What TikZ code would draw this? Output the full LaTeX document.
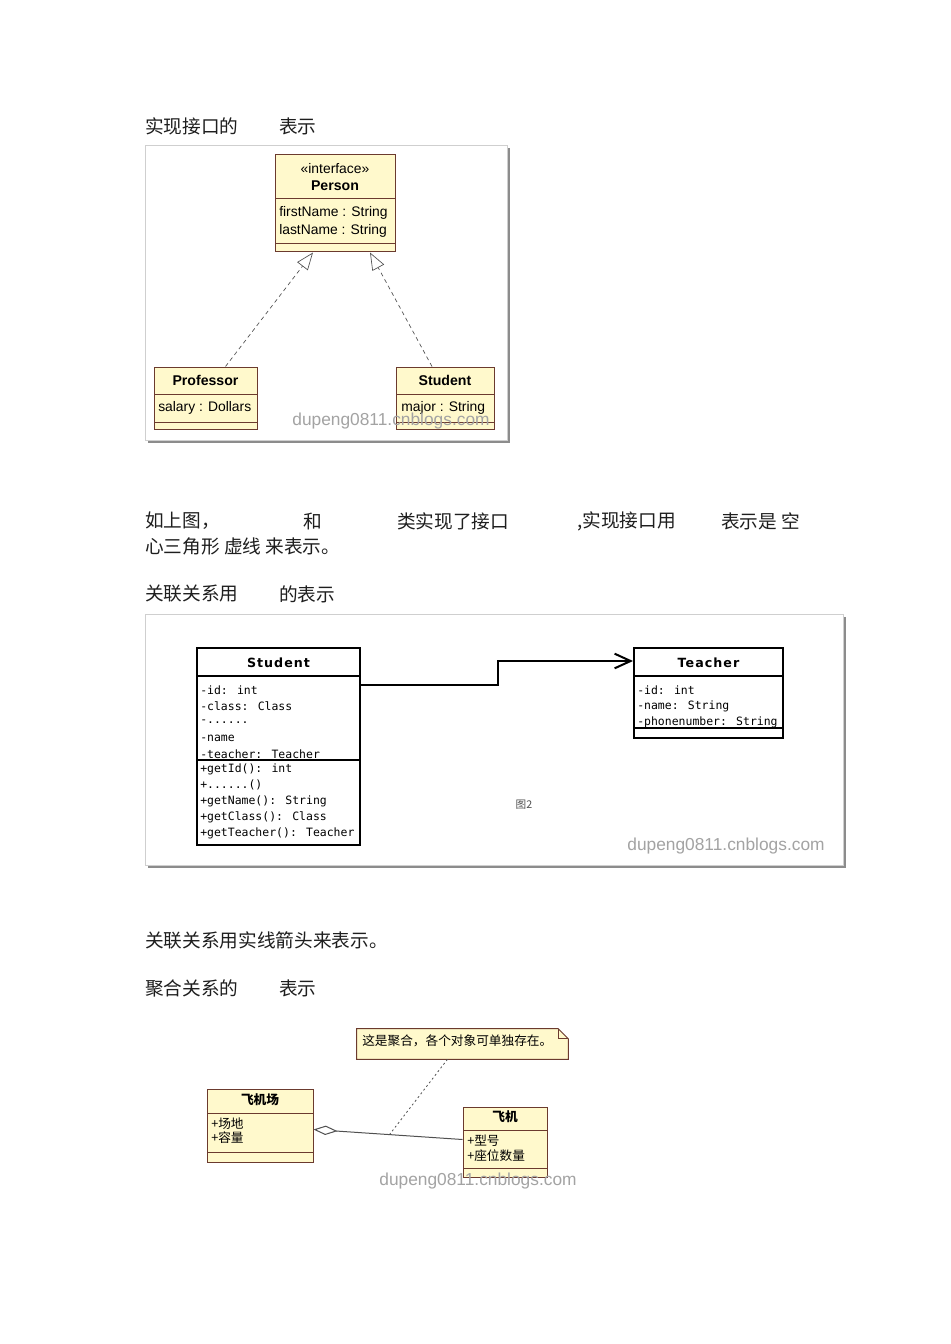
\documentclass[tikz,border=0pt]{standalone}
\usepackage{fontspec}
\setmainfont{Liberation Sans}
\newfontfamily\cjk{Noto Sans CJK SC}
\newfontfamily\umlmono{DejaVu Sans Mono}
\newfontfamily\umlbold{DejaVu Sans}[LetterSpace=8]
\usetikzlibrary{positioning, arrows.meta, fit}
\definecolor{txtdark}{HTML}{1E1E1E}
\definecolor{umlfill}{HTML}{FFF9CC}
\definecolor{umlline}{HTML}{6B3A2E}
\definecolor{wmgray}{HTML}{A3A3A3}
\definecolor{framegray}{HTML}{CFCFCF}
\definecolor{shadowgray}{HTML}{8C8C8C}
\definecolor{linkgray}{HTML}{505050}
\newcommand\umldots{......}

\tikzset{
  bodytxt/.style={anchor=west, inner sep=0pt, text=txtdark,
    font=\cjk\fontsize{14}{16}\selectfont},
  umlbox/.style={fit={#1}, inner sep=0pt, draw=umlline, fill=umlfill,
    line width=0.75pt},
  umlsep/.style={draw=umlline, line width=0.75pt},
  umltitle/.style={inner sep=0pt, font=\fontsize{10.6}{12}\selectfont\bfseries},
  umlattr/.style={anchor=west, inner sep=0pt, font=\fontsize{10.4}{12}\selectfont},
  bwbox/.style={fit={#1}, inner sep=0pt, draw=black, fill=white,
    line width=1.5pt},
  bwtitle/.style={inner sep=0pt, font=\umlbold\fontsize{9.5}{11}\selectfont\bfseries},
  monoattr/.style={anchor=west, inner sep=0pt,
    font=\umlmono\fontsize{8.6}{10}\selectfont},
  cjktitle/.style={inner sep=0pt, font=\cjk\fontsize{9.5}{11}\selectfont\bfseries},
  cjkattr/.style={anchor=west, inner sep=0pt, font=\cjk\fontsize{9.5}{11}\selectfont},
  watermark/.style={inner sep=0pt, text=wmgray, font=\fontsize{13}{14}\selectfont},
  realize/.style={draw=linkgray, line width=0.5pt, dash pattern=on 3pt off 2.5pt,
    -{Triangle[open, length=13pt, width=10pt]}},
  assoc/.style={draw=black, line width=1.5pt,
    -{Straight Barb[length=12pt, width=11pt]}},
  aggr/.style={draw=linkgray, line width=0.75pt,
    {Diamond[open, length=18pt, width=7pt]}-},
  notelink/.style={draw=linkgray, line width=0.6pt, dash pattern=on 1.5pt off 2pt}
}

\begin{document}
\begin{tikzpicture}[x=0.75pt, y=-0.75pt]
  \useasboundingbox[fill=white] (0,0) rectangle (950,1344);

  % --- realisation ---
  \node[bodytxt] (h1a) at (145,126) {实现接口的};
  \node[bodytxt] (h1b) at (279,126) {表示};
  \fill[shadowgray] (148,148) rectangle (510,443);
  \draw[framegray, fill=white] (145,145) rectangle (507,440);

  % interface
  \node[umlbox={(275,155) (395,252)}] (person) {};
  \draw[umlsep] (275,199) -- (395,199) (275,244) -- (395,244);
  \node[umltitle, font=\fontsize{10.4}{12}\selectfont] (personst) at (335,169) {«interface»};
  \node[umltitle] (personnm) at (335,186) {Person};
  \node[umlattr] (personfn) at (279,213) {firstName : String};
  \node[umlattr] (personln) at (279,231) {lastName : String};

  % implementing classes
  \node[umlbox={(154,367) (257,429)}] (prof) {};
  \draw[umlsep] (154,394) -- (257,394) (154,422) -- (257,422);
  \node[umltitle] (profnm) at (205.5,380) {Professor};
  \node[umlattr] (profsal) at (158,408) {salary : Dollars};

  \node[umlbox={(396,367) (494,429)}] (stud) {};
  \draw[umlsep] (396,394) -- (494,394) (396,422) -- (494,422);
  \node[umltitle] (studnm) at (445,380) {Student};
  \node[umlattr] (studmaj) at (401,408) {major : String};

  \draw[realize] ([shift={(20,0)}]prof.north) -- ([shift={(-22,0)}]person.south);
  \draw[realize] ([shift={(-13,0)}]stud.north) -- ([shift={(35,0)}]person.south);
  \node[watermark] (wm1) at (391,421) {dupeng0811.cnblogs.com};

  % --- text between ---
  \node[bodytxt] (p1a) at (145,521) {如上图，};
  \node[bodytxt] (p1b) at (303,521) {和};
  \node[bodytxt] (p1c) at (397,521) {类实现了接口};
  \node[bodytxt] (p1d) at (577,521) {,实现接口用};
  \node[bodytxt] (p1e) at (721,521) {表示是 空};
  \node[bodytxt] (p2a) at (145,546) {心三角形 虚线 来表示。};

  % --- association ---
  \node[bodytxt] (h2a) at (145,594) {关联关系用};
  \node[bodytxt] (h2b) at (279,594) {的表示};
  \fill[shadowgray] (148,617) rectangle (846,868);
  \draw[framegray, fill=white] (145,614) rectangle (843,865);

  \node[bwbox={(197,648) (360,845)}] (stu2) {};
  \draw[black, line width=1.5pt] (197,676) -- (360,676) (197,760) -- (360,760);
  \node[bwtitle] (stu2nm) at (278.5,663) {Student};
  \foreach \t [count=\i from 0] in {{-id: int}, {-class: Class}, {-\umldots},
      {-name}, {-teacher: Teacher}}
    \node[monoattr] (stu2a\i) at (200,690+16*\i) {\t};
  \foreach \t [count=\i from 0] in {{+getId(): int}, {+\umldots()},
      {+getName(): String}, {+getClass(): Class}, {+getTeacher(): Teacher}}
    \node[monoattr] (stu2m\i) at (200,769+16*\i) {\t};

  \node[bwbox={(634,648) (783,738)}] (tea) {};
  \draw[black, line width=1.5pt] (634,676) -- (783,676) (634,728) -- (783,728);
  \node[bwtitle] (teanm) at (708.5,663) {Teacher};
  \foreach \t [count=\i from 0] in {{-id: int}, {-name: String},
      {-phonenumber: String}}
    \node[monoattr] (teaa\i) at (637,690+16*\i) {\t};

  \draw[assoc] ([shift={(0,38)}]stu2.north east) -- ++(137,0)
    |- ([shift={(0,14)}]tea.north west);
  \node[inner sep=0pt, text=linkgray, font=\cjk\fontsize{8}{9}\selectfont] (fig2) at (524,805) {图2};
  \node[watermark] (wm2) at (726,846) {dupeng0811.cnblogs.com};

  \node[bodytxt] (p3a) at (145,940) {关联关系用实线箭头来表示。};

  % --- aggregation ---
  \node[bodytxt] (h3a) at (145,988) {聚合关系的};
  \node[bodytxt] (h3b) at (279,988) {表示};

  \node[fit={(357,1029) (568,1059)}, inner sep=0pt] (note) {};
  \draw[umlsep, fill=umlfill] (note.north west) -- ([shift={(-10,0)}]note.north east)
    -- ([shift={(0,10)}]note.north east) -- (note.south east)
    -- (note.south west) -- cycle;
  \draw[umlsep] ([shift={(-10,0)}]note.north east) -- ([shift={(-10,10)}]note.north east)
    -- ([shift={(0,10)}]note.north east);
  \node[cjkattr] (notetx) at (362,1041) {这是聚合，各个对象可单独存在。};

  \node[umlbox={(207,1089) (313,1162)}] (airport) {};
  \draw[umlsep] (207,1113) -- (313,1113) (207,1152) -- (313,1152);
  \node[cjktitle] (airportnm) at (260,1100) {飞机场};
  \node[cjkattr] (airporta) at (211,1124) {+场地};
  \node[cjkattr] (airportb) at (211,1138) {+容量};

  \node[umlbox={(463,1107) (547,1177)}] (plane) {};
  \draw[umlsep] (463,1130) -- (547,1130) (463,1168) -- (547,1168);
  \node[cjktitle] (planenm) at (505,1117) {飞机};
  \node[cjkattr] (planea) at (467,1141) {+型号};
  \node[cjkattr] (planeb) at (467,1156) {+座位数量};

  \draw[aggr] ([shift={(0,41)}]airport.north east) -- coordinate[pos=0.51] (aggmid)
    ([shift={(0,33)}]plane.north west);
  \draw[notelink] ([shift={(-15,0)}]note.south) -- (aggmid);
  \node[watermark] (wm3) at (478,1181) {dupeng0811.cnblogs.com};
\end{tikzpicture}
\end{document}
